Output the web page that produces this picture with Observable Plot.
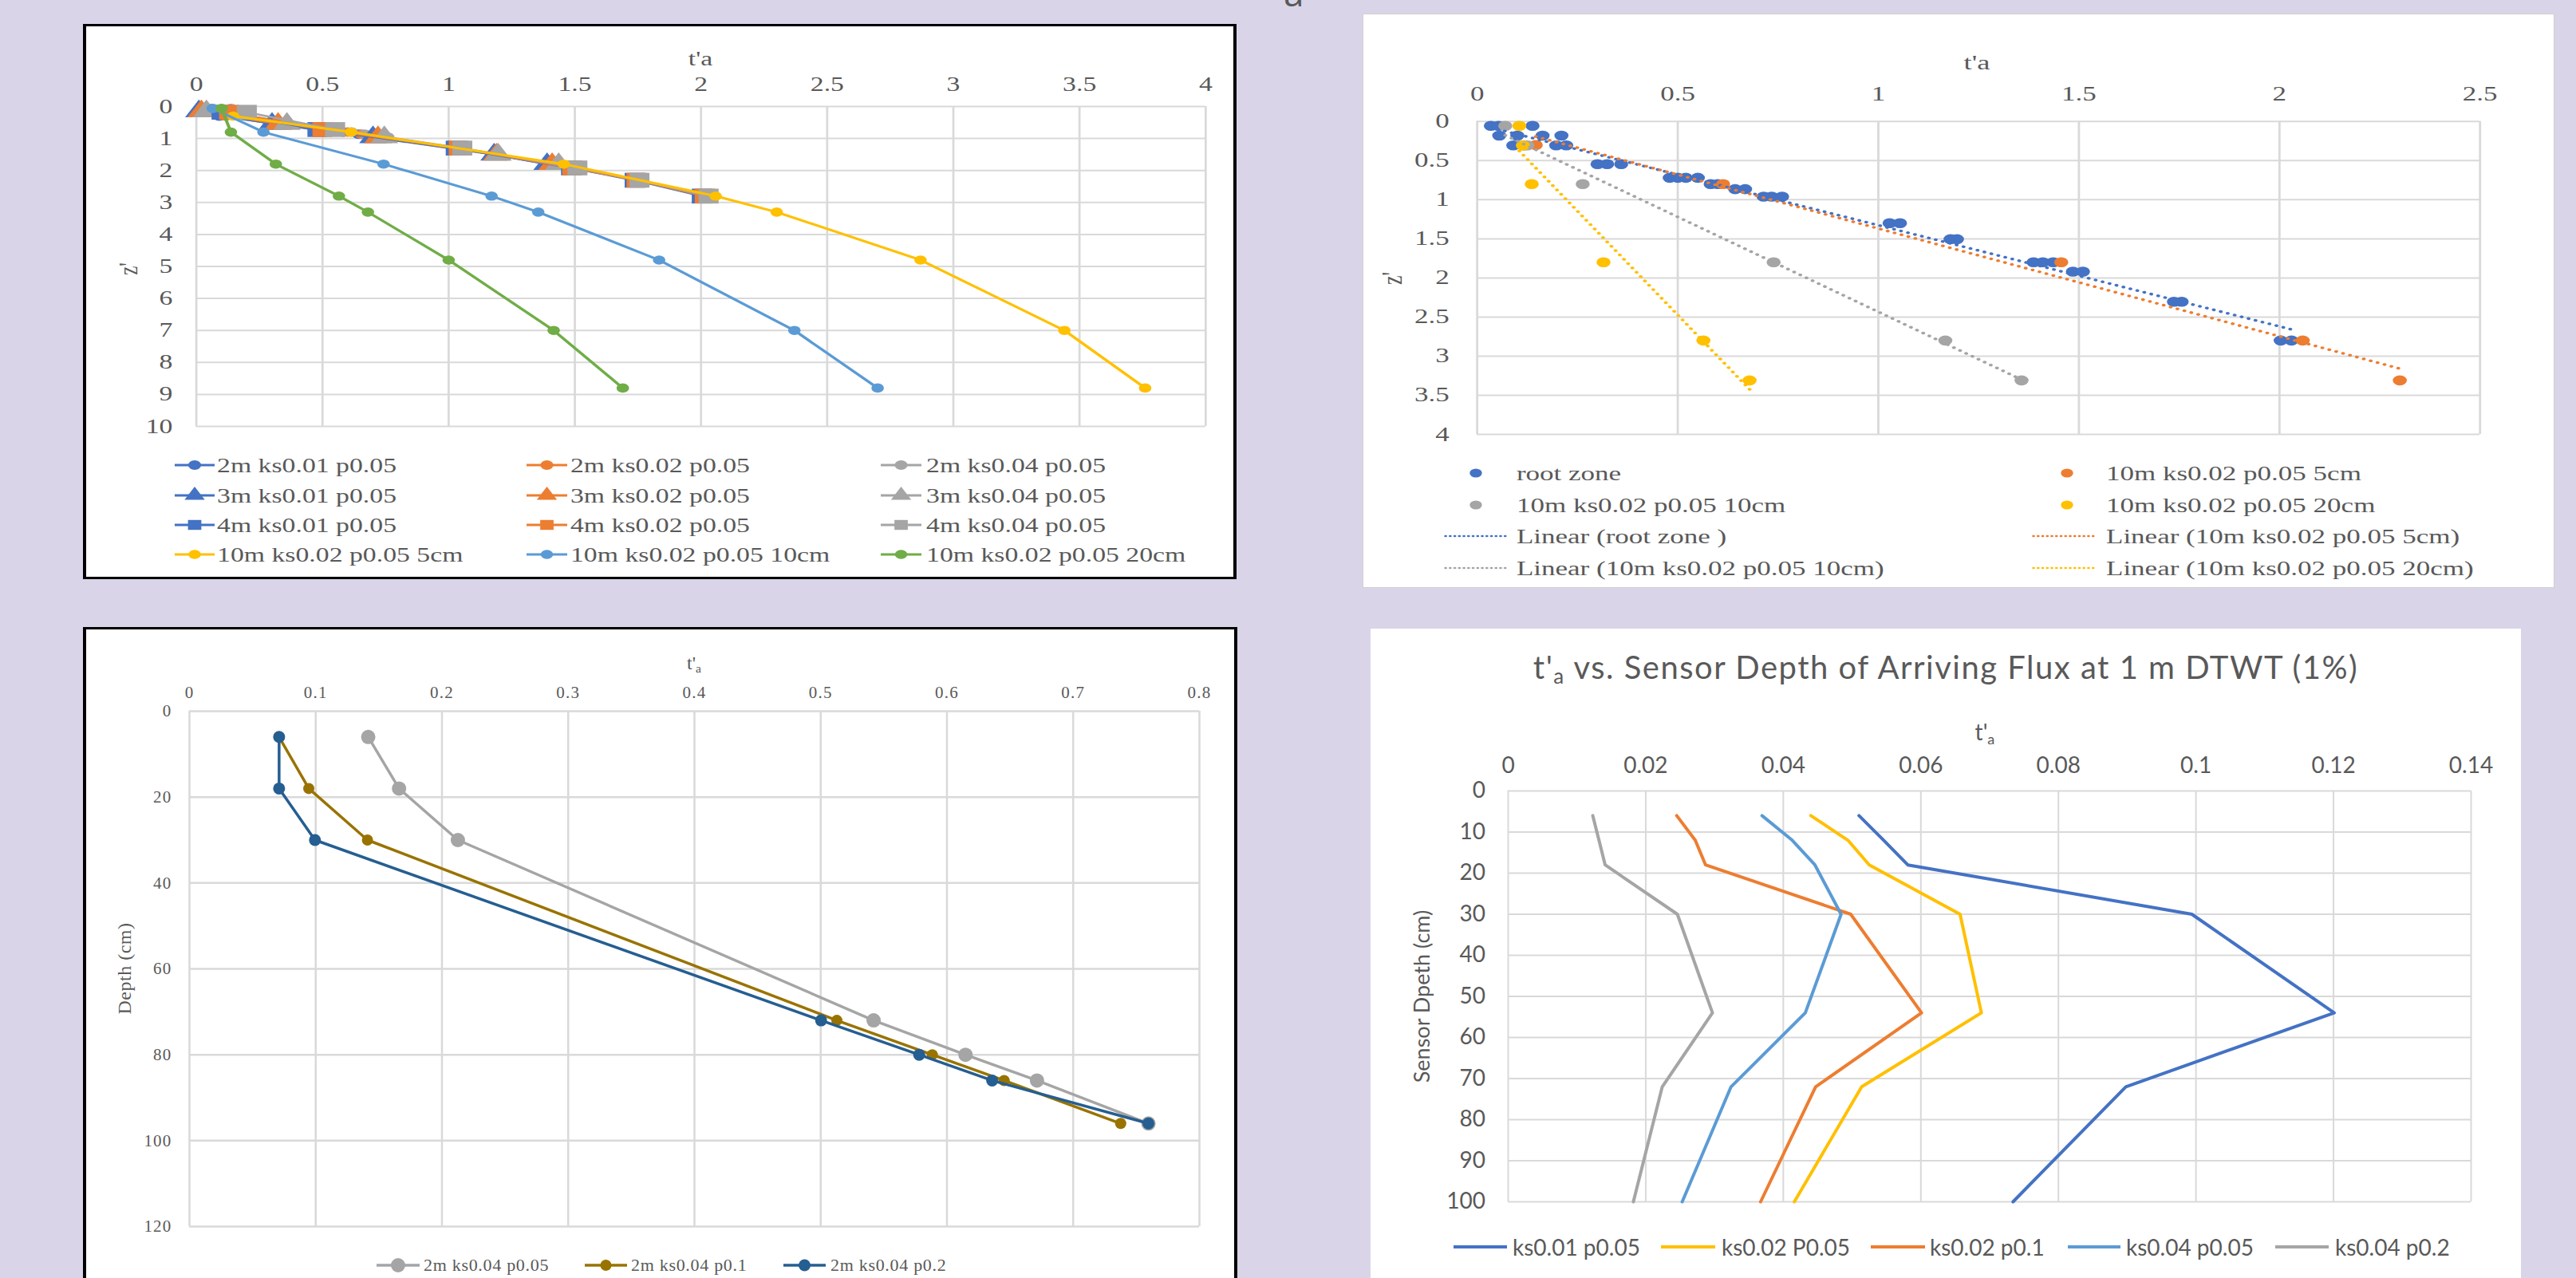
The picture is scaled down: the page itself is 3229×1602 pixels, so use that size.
<!DOCTYPE html>
<html>
<head>
<meta charset="utf-8">
<script src="https://cdn.jsdelivr.net/npm/d3@7"></script>
<script src="https://cdn.jsdelivr.net/npm/@observablehq/plot@0.6"></script>
<style>
  html, body { margin: 0; padding: 0; }
  body { width: 3229px; height: 1602px; background: #DAD4E8; position: relative; overflow: hidden; }
  .panel { position: absolute; background: #ffffff; box-sizing: border-box; overflow: hidden; }
  .inner { position: absolute; left: 0; top: 0; transform-origin: 0 0; }
  .inner svg { position: absolute; left: 0; top: 0; }
  .lbl { position: absolute; white-space: nowrap; color: #595959; line-height: 1; }
  .lbl sub { font-size: 0.65em; vertical-align: -0.25em; }
</style>
</head>
<body>
<script>
// ======================= DATA =======================
// Panel A (top-left): t'a vs z'
const p1XTicks = [0, 0.5, 1, 1.5, 2, 2.5, 3, 3.5, 4];
const p1YTicks = [0, 1, 2, 3, 4, 5, 6, 7, 8, 9, 10];
const p1Names = ["2m ks0.01 p0.05", "2m ks0.02 p0.05", "2m ks0.04 p0.05",
                 "3m ks0.01 p0.05", "3m ks0.02 p0.05", "3m ks0.04 p0.05",
                 "4m ks0.01 p0.05", "4m ks0.02 p0.05", "4m ks0.04 p0.05",
                 "10m ks0.02 p0.05 5cm", "10m ks0.02 p0.05 10cm", "10m ks0.02 p0.05 20cm"];
const p1Ta = [
  [0.034, 0.055, 0.09, 0.48, 0.582, 0.643, 0.714],
  [0.053, 0.10, 0.116, 0.51, 0.60, 0.655, 0.734],
  [0.138, 0.163, 0.21, 0.54, 0.615, 0.668, 0.76],
  [0.01, 0.30, 0.70, 1.18, 1.39],
  [0.02, 0.324, 0.72, 1.19, 1.41],
  [0.04, 0.359, 0.745, 1.196, 1.436],
  [0.10, 0.48, 1.028, 1.485, 1.737, 2.003],
  [0.13, 0.50, 1.04, 1.49, 1.745, 2.015],
  [0.20, 0.55, 1.054, 1.51, 1.756, 2.03],
  [0.146, 0.613, 1.456, 2.058, 2.30, 2.87, 3.44, 3.76],
  [0.065, 0.266, 0.742, 1.17, 1.355, 1.834, 2.37, 2.70],
  [0.10, 0.137, 0.315, 0.565, 0.68, 1.0, 1.416, 1.69]
];
const p1Z = [
  [0.06, 0.18, 0.30, 0.72, 0.80, 0.865, 0.96],
  [0.06, 0.18, 0.30, 0.72, 0.80, 0.865, 0.96],
  [0.06, 0.18, 0.30, 0.72, 0.80, 0.865, 0.96],
  [0.15, 0.545, 0.96, 1.505, 1.80],
  [0.15, 0.545, 0.96, 1.505, 1.80],
  [0.15, 0.545, 0.96, 1.505, 1.80],
  [0.18, 0.72, 1.30, 1.92, 2.305, 2.80],
  [0.18, 0.72, 1.30, 1.92, 2.305, 2.80],
  [0.18, 0.72, 1.30, 1.92, 2.305, 2.80],
  [0.30, 0.80, 1.80, 2.80, 3.30, 4.80, 7.0, 8.8],
  [0.06, 0.80, 1.80, 2.80, 3.30, 4.80, 7.0, 8.8],
  [0.06, 0.80, 1.80, 2.80, 3.30, 4.80, 7.0, 8.8]
];

// Panel B (top-right): scatter with linear trend lines
const p2XTicks = [0, 0.5, 1, 1.5, 2, 2.5];
const p2YTicks = [0, 0.5, 1, 1.5, 2, 2.5, 3, 3.5, 4];
const p2Names = ["root zone", "10m ks0.02 p0.05 5cm", "10m ks0.02 p0.05 10cm", "10m ks0.02 p0.05 20cm"];
const p2TrendNames = ["Linear (root zone )", "Linear (10m ks0.02 p0.05 5cm)", "Linear (10m ks0.02 p0.05 10cm)", "Linear (10m ks0.02 p0.05 20cm)"];
const p2Ta = [
  [0.034, 0.053, 0.138, 0.055, 0.10, 0.163, 0.21, 0.09, 0.116, 0.197, 0.222, 0.30, 0.324, 0.359,
   0.48, 0.50, 0.52, 0.55, 0.582, 0.60, 0.643, 0.668, 0.714, 0.734, 0.76, 1.028, 1.054, 1.18, 1.196,
   1.387, 1.41, 1.436, 1.485, 1.51, 1.737, 1.756, 2.003, 2.03],
  [0.146, 0.613, 1.456, 2.058, 2.30],
  [0.07, 0.125, 0.263, 0.739, 1.167, 1.357],
  [0.105, 0.114, 0.136, 0.315, 0.564, 0.679]
];
const p2Z = [
  [0.055, 0.055, 0.055, 0.18, 0.18, 0.18, 0.18, 0.305, 0.305, 0.305, 0.305, 0.545, 0.545, 0.545,
   0.72, 0.72, 0.72, 0.72, 0.80, 0.80, 0.865, 0.865, 0.96, 0.96, 0.96, 1.30, 1.30, 1.505, 1.505,
   1.80, 1.80, 1.80, 1.92, 1.92, 2.305, 2.305, 2.80, 2.80],
  [0.30, 0.80, 1.80, 2.80, 3.31],
  [0.055, 0.305, 0.80, 1.80, 2.80, 3.31],
  [0.055, 0.305, 0.80, 1.80, 2.80, 3.31]
];

// Panel C (bottom-left): t'a vs depth (cm)
const p3XTicks = [0, 0.1, 0.2, 0.3, 0.4, 0.5, 0.6, 0.7, 0.8];
const p3YTicks = [0, 20, 40, 60, 80, 100, 120];
const p3Depth = [6, 18, 30, 72, 80, 86, 96];
const p3Names = ["2m ks0.04 p0.05", "2m ks0.04 p0.1", "2m ks0.04 p0.2"];
const p3Ta = [
  [0.1416, 0.166, 0.2126, 0.5419, 0.6147, 0.6713, 0.7596],
  [0.071, 0.0945, 0.141, 0.5128, 0.5884, 0.6453, 0.7376],
  [0.071, 0.071, 0.0994, 0.5003, 0.578, 0.6358, 0.7596]
];

// Panel D (bottom-right): t'a vs sensor depth
const p4XTicks = [0, 0.02, 0.04, 0.06, 0.08, 0.1, 0.12, 0.14];
const p4YTicks = [0, 10, 20, 30, 40, 50, 60, 70, 80, 90, 100];
const p4Depth = [6, 12, 18, 30, 54, 72, 100];
const p4Names = ["ks0.01 p0.05", "ks0.02 P0.05", "ks0.02 p0.1", "ks0.04 p0.05", "ks0.04 p0.2"];
const p4Ta = [
  [0.051, 0.0546, 0.0581, 0.0994, 0.1201, 0.0898, 0.0734],
  [0.044, 0.0494, 0.0525, 0.0657, 0.0688, 0.0514, 0.0416],
  [0.0245, 0.0272, 0.0287, 0.0498, 0.0601, 0.0447, 0.0367],
  [0.0369, 0.0413, 0.0446, 0.0484, 0.0432, 0.0324, 0.0253],
  [0.0123, 0.0132, 0.0141, 0.0246, 0.0297, 0.0224, 0.0182]
];

// ======================= STYLE =======================
const SERIF = "'Liberation Serif', 'Times New Roman', serif";
const SANS = "Lato, 'Open Sans', sans-serif";
const GRID = "#D9D9D9";
const TEXT = "#595959";
const BLUE = "#4472C4", ORANGE = "#ED7D31", GRAY = "#A5A5A5", YELLOW = "#FFC000", LBLUE = "#5B9BD5", GREEN = "#70AD47";
const p1Colors = [BLUE, ORANGE, GRAY, BLUE, ORANGE, GRAY, BLUE, ORANGE, GRAY, YELLOW, LBLUE, GREEN];
const p1Symbols = ["circle", "circle", "circle", "triangle", "triangle", "triangle", "square", "square", "square", "circle", "circle", "circle"];
const p1R = [6, 6, 6, 9.5, 9.5, 9.5, 10.5, 10.5, 10.5, 5.8, 5.8, 5.8];
const p1LineW = [2.5, 2.5, 2.5, 2.5, 2.5, 2.5, 2.5, 2.5, 2.5, 3, 3, 3];
const p2Colors = [BLUE, ORANGE, GRAY, YELLOW];
const p3Colors = [GRAY, "#997300", "#255E91"];
const p3R = [9, 7, 7.5];
const p4Colors = [BLUE, YELLOW, ORANGE, LBLUE, GRAY];

const fmt = d => String(d);

// ======================= HELPERS =======================
function panel(o) {
  const outer = document.createElement("div");
  outer.className = "panel";
  outer.style.left = o.left + "px";
  outer.style.top = o.top + "px";
  outer.style.width = o.w + "px";
  outer.style.height = o.h + "px";
  outer.style.borderStyle = "solid";
  outer.style.borderColor = o.bc || "transparent";
  outer.style.borderWidth = o.bw || "0px";
  document.body.appendChild(outer);
  const inner = document.createElement("div");
  inner.className = "inner";
  inner.style.width = o.iw + "px";
  inner.style.height = o.ih + "px";
  inner.style.transform = `scaleX(${o.s || 1})`;
  outer.appendChild(inner);
  return inner;
}
function label(parent, html, x, y, o) {
  const d = document.createElement("div");
  d.className = "lbl";
  d.innerHTML = html;
  d.style.left = x + "px";
  d.style.top = y + "px";
  d.style.fontSize = o.size + "px";
  d.style.fontFamily = o.family;
  if (o.ls) d.style.letterSpacing = o.ls + "px";
  const tx = o.anchor === "start" ? "0" : "-50%";
  d.style.transform = `translate(${tx},-50%)` + (o.rotate ? ` rotate(${o.rotate}deg)` : "");
  parent.appendChild(d);
  return d;
}
function overlay(parent, w, h) {
  return d3.select(parent).append("svg")
    .attr("width", w).attr("height", h)
    .style("position", "absolute").style("left", "0px").style("top", "0px")
    .style("overflow", "visible").style("pointer-events", "none");
}
const symbolTypes = {circle: d3.symbolCircle, triangle: d3.symbolTriangle, square: d3.symbolSquare};
function swatch(svg, o) {
  if (o.x1 !== undefined) {
    const ln = svg.append("line").attr("x1", o.x1).attr("x2", o.x2).attr("y1", o.y).attr("y2", o.y)
      .attr("stroke", o.color).attr("stroke-width", o.lw || 3);
    if (o.dash) ln.attr("stroke-dasharray", o.dash).attr("stroke-linecap", "round");
  }
  if (o.symbol) {
    const cx = o.cx !== undefined ? o.cx : (o.x1 + o.x2) / 2;
    svg.append("path").attr("d", d3.symbol(symbolTypes[o.symbol], Math.PI * o.r * o.r)())
      .attr("transform", `translate(${cx},${o.y})`).attr("fill", o.color);
  }
}
function rowsOf(names, taArr, zArr) {
  return names.map((s, i) => taArr[i].map((ta, j) => ({s, ta, z: Array.isArray(zArr[0]) ? zArr[i][j] : zArr[j]})));
}
function baseMarks(xt, yt, xPad, yPad, gw) {
  return [
    Plot.gridX(xt, {stroke: GRID, strokeOpacity: 1, strokeWidth: gw}),
    Plot.gridY(yt, {stroke: GRID, strokeOpacity: 1, strokeWidth: gw}),
    Plot.axisX(xt, {anchor: "top", tickSize: 0, tickPadding: xPad, tickFormat: fmt, label: null}),
    Plot.axisY(yt, {anchor: "left", tickSize: 0, tickPadding: yPad, tickFormat: fmt, label: null})
  ];
}

// ======================= TOP STRAY LETTER =======================
(() => {
  const d = document.createElement("div");
  d.className = "lbl";
  d.textContent = "a";
  d.style.left = "1609px"; d.style.top = "-33px";
  d.style.fontSize = "46px"; d.style.lineHeight = "46px"; d.style.fontFamily = "'Open Sans', sans-serif";
  document.body.appendChild(d);
})();

// ======================= PANEL A =======================
{
  const S = 1.35;
  const inner = panel({left: 104, top: 30, w: 1446, h: 696, bc: "#000", bw: "3px 4px", iw: 1065, ih: 690, s: S});
  const rows = rowsOf(p1Names, p1Ta, p1Z);
  const marks = baseMarks(p1XTicks, p1YTicks, 20, 22, 2);
  rows.forEach((d, i) => {
    marks.push(Plot.line(d, {x: "ta", y: "z", stroke: p1Colors[i], strokeWidth: p1LineW[i]}));
    marks.push(Plot.dot(d, {x: "ta", y: "z", fill: p1Colors[i], symbol: p1Symbols[i], r: p1R[i]}));
  });
  const chart = Plot.plot({
    width: 1065, height: 511,
    marginLeft: 101.8, marginRight: 26, marginTop: 100, marginBottom: 10,
    x: {domain: [0, 4]}, y: {domain: [0, 10], reverse: true},
    style: {fontFamily: SERIF, fontSize: "25px", color: TEXT, background: "transparent", maxWidth: "none", overflow: "visible"},
    marks
  });
  inner.appendChild(chart);
  label(inner, "t'a", 570.4, 40, {size: 25, family: SERIF});
  label(inner, "z'", 39.3, 304, {size: 25, family: SERIF, rotate: -90});
  const svg = overlay(inner, 1065, 690);
  const rowY = [550, 588, 625, 662];
  const colX1 = [82.2, 408.9, 737.8], colX2 = [119.3, 446.7, 775.6], colT = [121.5, 449.6, 780];
  p1Names.forEach((n, i) => {
    const r = Math.floor(i / 3), c = i % 3;
    swatch(svg, {x1: colX1[c], x2: colX2[c], y: rowY[r], color: p1Colors[i], lw: 3, symbol: p1Symbols[i], r: Math.min(p1R[i], 7)});
    label(inner, n, colT[c], rowY[r], {size: 25, family: SERIF, anchor: "start"});
  });
}

// ======================= PANEL B =======================
{
  const S = 1.4;
  const inner = panel({left: 1708, top: 17, w: 1494, h: 720, bc: "#D0D0D0", bw: "1px", iw: 1066, ih: 718, s: S});
  const rows = rowsOf(p2Names, p2Ta, p2Z);
  const marks = baseMarks(p2XTicks, p2YTicks, 26.5, 25, 2);
  rows.forEach((d, i) => marks.push(Plot.dot(d, {x: "ta", y: "z", fill: p2Colors[i], r: 6.3})));
  rows.forEach((d, i) => marks.push(Plot.linearRegressionY(d, {
    x: "ta", y: "z", stroke: p2Colors[i], strokeWidth: 3.4, strokeDasharray: "0.1,6.5", strokeLinecap: "round", ci: 0
  })));
  const chart = Plot.plot({
    width: 1066, height: 536,
    marginLeft: 101.4, marginRight: 66.7, marginTop: 133.8, marginBottom: 10,
    x: {domain: [0, 2.5]}, y: {domain: [0, 4], reverse: true},
    style: {fontFamily: SERIF, fontSize: "25px", color: TEXT, background: "transparent", maxWidth: "none", overflow: "visible"},
    marks
  });
  inner.appendChild(chart);
  label(inner, "t'a", 549.3, 61, {size: 26, family: SERIF});
  label(inner, "z'", 26.4, 331, {size: 26, family: SERIF, rotate: -90});
  const svg = overlay(inner, 1066, 718);
  const rowY = [575, 615, 654, 694];
  const dotX = [100.7, 630], dx1 = [73.6, 600], dx2 = [130, 657], tx = [137.1, 665];
  p2Names.forEach((n, i) => {
    const r = Math.floor(i / 2), c = i % 2;
    swatch(svg, {cx: dotX[c], y: rowY[r], color: p2Colors[i], symbol: "circle", r: 5.5});
    label(inner, n, tx[c], rowY[r], {size: 25, family: SERIF, anchor: "start"});
  });
  p2TrendNames.forEach((n, i) => {
    const r = 2 + Math.floor(i / 2), c = i % 2;
    swatch(svg, {x1: dx1[c], x2: dx2[c], y: rowY[r], color: p2Colors[i], lw: 2.6, dash: "0.1,4"});
    label(inner, n, tx[c], rowY[r], {size: 25, family: SERIF, anchor: "start"});
  });
}

// ======================= PANEL C =======================
{
  const inner = panel({left: 104, top: 786, w: 1447, h: 840, bc: "#000", bw: "3px 4px", iw: 1439, ih: 830, s: 1});
  const rows = rowsOf(p3Names, p3Ta, p3Depth);
  const marks = baseMarks(p3XTicks, p3YTicks, 17, 22, 2.5);
  rows.forEach((d, i) => {
    marks.push(Plot.line(d, {x: "ta", y: "z", stroke: p3Colors[i], strokeWidth: 3.5}));
    marks.push(Plot.dot(d, {x: "ta", y: "z", fill: p3Colors[i], r: p3R[i]}));
  });
  const chart = Plot.plot({
    width: 1439, height: 758,
    marginLeft: 129, marginRight: 44, marginTop: 102, marginBottom: 10,
    x: {domain: [0, 0.8]}, y: {domain: [0, 120], reverse: true},
    style: {fontFamily: SERIF, fontSize: "21px", letterSpacing: "1.2px", color: TEXT, background: "transparent", maxWidth: "none", overflow: "visible"},
    marks
  });
  inner.appendChild(chart);
  label(inner, "t'<sub>a</sub>", 762, 43, {size: 24, family: SERIF});
  label(inner, "Depth (cm)", 48, 425, {size: 24, family: SERIF, rotate: -90, ls: 0.5});
  const svg = overlay(inner, 1439, 830);
  const x1 = [364, 625, 874], x2 = [418, 678, 927], tx = [423, 683, 933];
  p3Names.forEach((n, i) => {
    swatch(svg, {x1: x1[i], x2: x2[i], y: 797, color: p3Colors[i], lw: 3.5, symbol: "circle", r: p3R[i]});
    label(inner, n, tx[i], 797, {size: 22, family: SERIF, anchor: "start", ls: 0.7});
  });
}

// ======================= PANEL D =======================
{
  const inner = panel({left: 1718, top: 788, w: 1442, h: 840, iw: 1442, ih: 830, s: 1});
  const rows = rowsOf(p4Names, p4Ta, p4Depth);
  const marks = baseMarks(p4XTicks, p4YTicks, 23, 28.5, 2);
  rows.forEach((d, i) => marks.push(Plot.line(d, {x: "ta", y: "z", stroke: p4Colors[i], strokeWidth: 4})));
  const chart = Plot.plot({
    width: 1442, height: 728,
    marginLeft: 172, marginRight: 63, marginTop: 203, marginBottom: 10,
    x: {domain: [0, 0.14]}, y: {domain: [0, 100], reverse: true},
    style: {fontFamily: SANS, fontSize: "28px", color: TEXT, background: "transparent", maxWidth: "none", overflow: "visible"},
    marks
  });
  inner.appendChild(chart);
  label(inner, "t'<sub>a</sub> vs. Sensor Depth of Arriving Flux at 1 m DTWT (1%)", 721, 50, {size: 40, family: SANS, ls: 1.5});
  label(inner, "t'<sub>a</sub>", 770, 131, {size: 28, family: SANS});
  label(inner, "Sensor Dpeth (cm)", 63, 461, {size: 27, family: SANS, rotate: -90});
  const svg = overlay(inner, 1442, 830);
  const x1 = [104, 364, 627, 874, 1134], x2 = [171, 432, 695, 940, 1201], tx = [178, 440, 701, 947, 1209];
  p4Names.forEach((n, i) => {
    swatch(svg, {x1: x1[i], x2: x2[i], y: 775, color: p4Colors[i], lw: 4});
    label(inner, n, tx[i], 775, {size: 28, family: SANS, anchor: "start"});
  });
}
</script>
</body>
</html>
